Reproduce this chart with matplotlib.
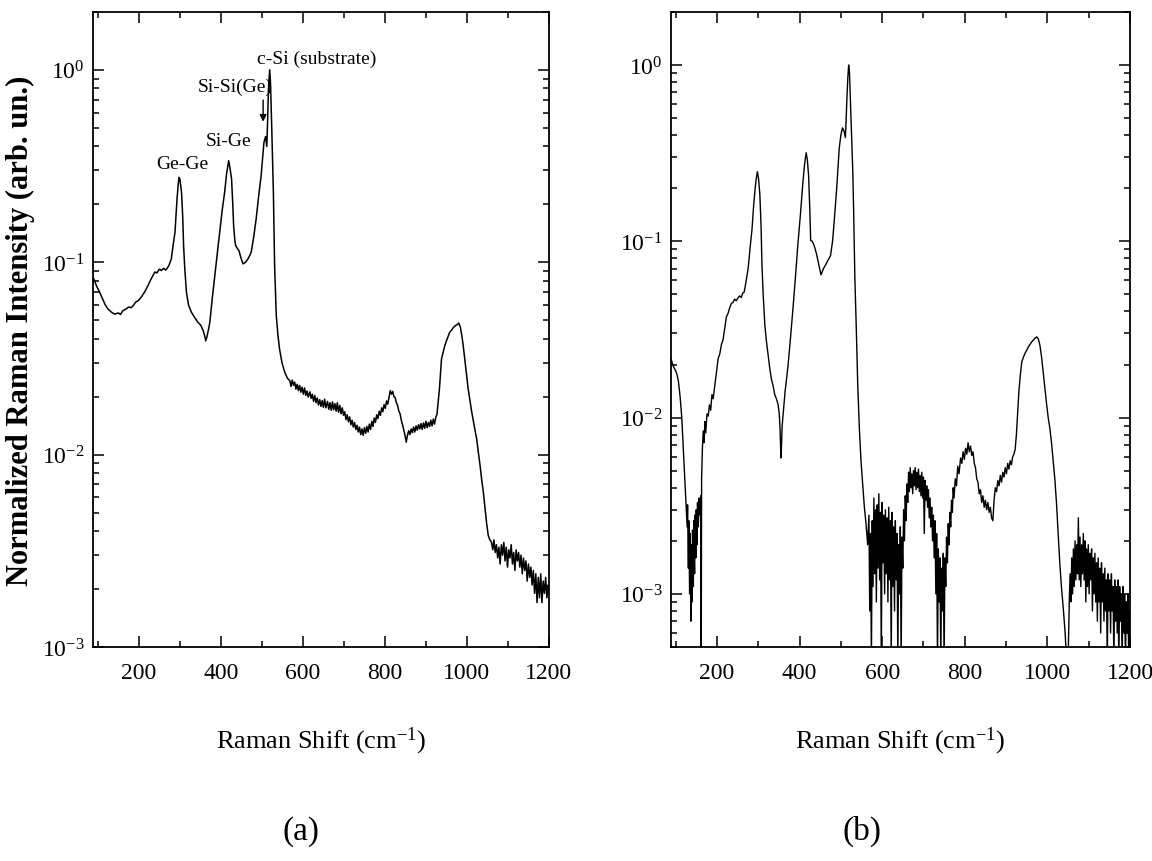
import numpy as np
import matplotlib
matplotlib.use("Agg")
import matplotlib.pyplot as plt
from matplotlib.ticker import LogLocator, MultipleLocator, NullFormatter

plt.rcParams['font.family'] = ['Liberation Serif', 'DejaVu Serif']
plt.rcParams['mathtext.fontset'] = 'custom'
plt.rcParams['mathtext.rm'] = 'Liberation Serif'
plt.rcParams['mathtext.it'] = 'Liberation Serif:italic'

# ---- panel (a): Raman shift (cm-1) and normalized intensity
a_shift = [90, 97, 104, 112, 118, 125, 133, 141, 150, 155, 161, 168, 175, 181, 186, 192, 198,
           206, 214, 222, 230, 239, 244, 250, 255, 260, 265, 269, 274, 279, 284, 288, 291, 293,
           296, 298, 300, 302, 304, 307, 309, 312, 316, 321, 328, 335, 344, 351, 357, 361, 363,
           366, 370, 373, 379, 385, 391, 397, 403, 409, 414, 419, 422, 426, 429, 431, 434, 436,
           440, 444, 449, 454, 460, 466, 470, 474, 480, 486, 492, 498, 502, 505, 509, 512, 514,
           516, 519, 521, 524, 528, 531, 535, 539, 543, 549, 556, 562, 568,
           571, 574, 577, 580, 583, 586, 589, 592, 595, 598,
           601, 604, 607, 610, 613, 617, 620, 623, 626, 629,
           632, 635, 638, 641, 644, 647, 650, 653, 656, 660,
           663, 666, 669, 672, 675, 678, 681, 684, 687, 690,
           693, 696, 699, 702, 705, 708, 711, 714, 717, 720,
           723, 726, 729, 732, 735, 738, 741, 744, 747, 750,
           753, 756, 759, 762, 765, 768, 771, 774, 777, 780,
           783, 786, 789, 792, 795, 798, 801, 804, 807, 810,
           813, 816, 819, 822, 825, 828, 831, 834, 837, 840,
           843, 846, 849, 852, 855, 858, 861, 864, 867, 870,
           873, 876, 879, 882, 885, 888, 891, 894, 897, 900,
           903, 906, 909, 912, 915, 918, 921, 924, 927, 930,
           933, 938, 942, 946, 950, 954, 958, 963, 968, 973,
           977, 980, 984, 988, 991, 995, 999, 1003, 1007, 1011, 1016, 1020, 1024, 1028, 1032,
           1036, 1040, 1044, 1048, 1052, 1056, 1060,
           1063, 1066, 1069, 1072, 1075, 1078, 1081, 1084, 1087, 1090, 1093, 1096, 1099, 1102,
           1105, 1108, 1111, 1114, 1117, 1120, 1123, 1126, 1129, 1132, 1135, 1138, 1141, 1144,
           1147, 1150, 1153, 1156, 1159, 1162, 1165, 1168, 1171, 1174, 1177, 1180, 1183, 1186,
           1189, 1192, 1195, 1198, 1200]
a_int = [0.082, 0.075, 0.070, 0.064, 0.060, 0.057, 0.055, 0.0537, 0.0545, 0.0535, 0.056, 0.057,
         0.0585, 0.058, 0.0594, 0.062, 0.063, 0.066, 0.070, 0.0755, 0.082, 0.089, 0.088, 0.092,
         0.0905, 0.093, 0.091, 0.093, 0.097, 0.104, 0.125, 0.143, 0.180, 0.213, 0.255, 0.276,
         0.27, 0.250, 0.231, 0.17, 0.122, 0.092, 0.0697, 0.060, 0.055, 0.052, 0.0487, 0.047,
         0.044, 0.041, 0.039, 0.041, 0.045, 0.0487, 0.065, 0.085, 0.11, 0.143, 0.185, 0.23,
         0.29, 0.337, 0.31, 0.271, 0.2, 0.155, 0.13, 0.122, 0.118, 0.115, 0.105, 0.098, 0.100,
         0.104, 0.108, 0.113, 0.135, 0.168, 0.22, 0.28, 0.35, 0.42, 0.45, 0.40, 0.55, 0.8, 1.0,
         0.85, 0.5, 0.23, 0.096, 0.053, 0.042, 0.0354, 0.030, 0.0267, 0.025, 0.0242,
         0.0226, 0.0244, 0.0229, 0.0238, 0.0219, 0.0232, 0.0215, 0.0229, 0.0211, 0.0224,
         0.0206, 0.0222, 0.0203, 0.0214, 0.0199, 0.0212, 0.0196, 0.0206, 0.0189, 0.0203,
         0.0186, 0.0197, 0.0181, 0.0193, 0.0178, 0.0191, 0.0176, 0.0194, 0.0175, 0.0189,
         0.0172, 0.0186, 0.0170, 0.0188, 0.0171, 0.0184, 0.0168, 0.0186, 0.0166, 0.0180,
         0.0163, 0.0175, 0.0160, 0.0167, 0.0152, 0.0161, 0.0148, 0.0157, 0.0143, 0.0151,
         0.0139, 0.0147, 0.0135, 0.0142, 0.0131, 0.0139, 0.0127, 0.0136, 0.0126, 0.0138,
         0.0129, 0.0140, 0.0131, 0.0144, 0.0135, 0.0149, 0.0140, 0.0155, 0.0147, 0.0161,
         0.0154, 0.0168, 0.0160, 0.0175, 0.0167, 0.0182, 0.0174, 0.0190, 0.0183, 0.0198,
         0.0215, 0.0206, 0.0213, 0.0200, 0.0198, 0.0186, 0.0180, 0.0168, 0.0163, 0.0151,
         0.0143, 0.0134, 0.0126, 0.0116, 0.0126, 0.0133, 0.0127, 0.0136, 0.0130, 0.0139,
         0.0131, 0.0141, 0.0134, 0.0143, 0.0136, 0.0145, 0.0135, 0.0146, 0.0137, 0.0149,
         0.0138, 0.0147, 0.0140, 0.0151, 0.0141, 0.0153, 0.0144, 0.0156, 0.0162, 0.0190,
         0.022, 0.0314, 0.034, 0.0368, 0.039, 0.041, 0.0432, 0.0445, 0.046, 0.047,
         0.0475, 0.0483, 0.046, 0.041, 0.0368, 0.031, 0.026, 0.022, 0.0194, 0.017, 0.0148,
         0.0133, 0.012, 0.0102, 0.0088, 0.0074, 0.0064, 0.0053, 0.0044, 0.0038, 0.0036, 0.0035,
         0.0032, 0.0036, 0.0031, 0.0034, 0.0029, 0.0033, 0.0027, 0.0034, 0.0030, 0.0035, 0.0028,
         0.0033, 0.0026, 0.0032, 0.0029, 0.0034, 0.0027, 0.0031, 0.0025, 0.0032, 0.0028, 0.0031,
         0.0026, 0.0030, 0.0024, 0.0029, 0.0025, 0.0028, 0.0022, 0.0027, 0.0023, 0.0026, 0.0021,
         0.0025, 0.0019, 0.0024, 0.0017, 0.0023, 0.0018, 0.0024, 0.0017, 0.0022, 0.0019, 0.0023,
         0.0018, 0.0021, 0.0020]

# ---- panel (b)
b_shift = [89, 93, 97, 100, 103, 107, 111, 115, 119, 123, 126, 128, 129, 131, 132, 134, 135, 137,
           138, 140, 141, 143, 144, 146, 147, 149, 150, 152, 153, 155, 157, 159, 161, 162, 163,
           165, 167, 169, 171, 173, 176, 179, 182, 185, 188, 191, 195, 199, 203, 207, 211, 215,
           219, 223, 227, 231, 235, 239, 243, 247, 251, 255, 259, 263, 266, 270, 273, 276, 280,
           285, 289, 292, 295, 298, 301, 304, 307, 309, 312, 316, 320, 324, 328, 332, 336, 340,
           344, 348, 351, 353, 355, 356, 358, 360, 365, 372, 378, 384, 390, 396, 402, 408, 412,
           416, 419, 422, 425, 427, 431, 436, 441, 446, 452, 458, 465, 470, 475, 480, 484, 490,
           496, 500, 504, 508, 511, 513, 515, 517, 519, 521, 523, 526, 529, 531, 534, 537, 541,
           545, 549, 553, 557, 561, 565,
           568, 570, 572, 574, 576, 578, 580, 582, 584, 586, 588, 590, 592, 594, 596, 598, 600,
           602, 604, 606, 608, 610, 612, 614, 616, 618, 620, 622, 624, 626, 628, 630, 632, 634,
           636, 638, 640, 642, 644, 646, 648, 650, 652, 654, 656, 658, 660, 662, 664, 666, 668,
           670, 672, 674, 676, 678, 680, 682, 684, 686, 688, 690, 692, 694, 696, 698, 700, 702,
           704, 706, 708, 710, 712, 714, 716, 718, 720, 722, 724, 726, 728, 730, 732, 734, 736,
           738, 740, 742, 744, 746, 748, 750, 752, 754, 756, 758, 760, 762, 764, 766, 768, 770,
           772, 774, 777, 780, 783, 786, 790, 793, 796, 799, 802, 805, 808, 811, 814, 817, 820,
           823, 826, 829, 832, 835, 838, 841, 844, 847, 850, 853, 856, 859, 862, 865, 868, 871,
           874, 877, 880, 883, 886, 889, 892, 895, 898, 901, 904, 907, 910, 913, 916, 919, 922,
           925, 928, 931, 934, 938, 942, 946, 950, 954, 958, 962, 966, 970, 974, 978, 982, 986,
           990, 994, 998, 1002, 1006, 1010, 1014, 1018, 1022, 1026, 1030, 1034, 1039, 1043, 1047,
           1050, 1053, 1055,
           1057, 1059, 1061, 1063, 1065, 1067, 1069, 1071, 1073, 1075, 1077, 1079, 1081, 1083,
           1085, 1087, 1089, 1091, 1093, 1095, 1097, 1099, 1101, 1103, 1105, 1107, 1109, 1111,
           1113, 1115, 1117, 1119, 1121, 1123, 1125, 1127, 1129, 1131, 1133, 1135, 1137, 1139,
           1141, 1143, 1145, 1147, 1149, 1151, 1153, 1155, 1157, 1159, 1161, 1163, 1165, 1167,
           1169, 1171, 1173, 1175, 1177, 1179, 1181, 1183, 1185, 1187, 1189, 1191, 1193, 1195,
           1197, 1199]
b_int = [0.0216, 0.020, 0.019, 0.0185, 0.0177, 0.016, 0.0131, 0.010, 0.0065, 0.0042, 0.0030,
         0.0024, 0.0032, 0.0014, 0.0026, 0.0010, 0.0022, 0.0007, 0.0019, 0.0009, 0.0023, 0.0011,
         0.0026, 0.0013, 0.0028, 0.0016, 0.0030, 0.0019, 0.0033, 0.0024, 0.0035, 0.0028, 0.0036,
         0.0003, 0.0045, 0.0068, 0.0084, 0.0072, 0.0095, 0.0082, 0.0105, 0.0102, 0.0118, 0.011,
         0.0135, 0.0128, 0.0152, 0.018, 0.0216, 0.023, 0.026, 0.0277, 0.032, 0.0373, 0.039,
         0.042, 0.0444, 0.045, 0.047, 0.046, 0.0478, 0.049, 0.048, 0.051, 0.0515, 0.058, 0.064,
         0.0713, 0.09, 0.117, 0.16, 0.193, 0.225, 0.248, 0.225, 0.184, 0.12, 0.0749, 0.05,
         0.0337, 0.027, 0.0226, 0.019, 0.0165, 0.0152, 0.0135, 0.0128, 0.0119, 0.0105, 0.0085,
         0.0059, 0.0065, 0.009, 0.0102, 0.014, 0.0195, 0.028, 0.0412, 0.062, 0.096, 0.14, 0.213,
         0.27, 0.318, 0.29, 0.236, 0.15, 0.101, 0.1, 0.0937, 0.085, 0.0749, 0.0645, 0.07,
         0.0749, 0.079, 0.0828, 0.1, 0.13, 0.2, 0.334, 0.4, 0.44, 0.42, 0.388, 0.5, 0.67, 0.85,
         1.0, 0.9, 0.64, 0.4, 0.248, 0.15, 0.0614, 0.035, 0.0152, 0.0085, 0.0056, 0.0042,
         0.0031, 0.0025, 0.0019,
         0.0028, 0.0008, 0.0022, 0.0004, 0.0026, 0.0011, 0.0035, 0.0013, 0.0030, 0.0009, 0.0032,
         0.0014, 0.0037, 0.0012, 0.0029, 0.0004, 0.0033, 0.0015, 0.0028, 0.0010, 0.0030, 0.0013,
         0.0027, 0.0009, 0.0031, 0.0012, 0.0026, 0.0004, 0.0029, 0.0011, 0.0024, 0.0008, 0.0026,
         0.0012, 0.0022, 0.0004, 0.0019, 0.0010, 0.0024, 0.0004, 0.0021, 0.0014, 0.0030, 0.0020,
         0.0036, 0.0026, 0.0042, 0.0033, 0.0049, 0.0038, 0.0052, 0.0040, 0.0048, 0.0037, 0.0050,
         0.0041, 0.0052, 0.0039, 0.0049, 0.0040, 0.0051, 0.0038, 0.0047, 0.0036, 0.0049, 0.0035,
         0.0046, 0.0022, 0.0044, 0.0034, 0.0041, 0.0031, 0.0039, 0.0027, 0.0035, 0.0024, 0.0031,
         0.0020, 0.0028, 0.0016, 0.0026, 0.0010, 0.0022, 0.0004, 0.0018, 0.0009, 0.0016, 0.0004,
         0.0014, 0.0008, 0.0017, 0.0004, 0.0016, 0.0011, 0.0021, 0.0015, 0.0025, 0.0019, 0.0029,
         0.0024, 0.0034, 0.0029, 0.0040, 0.0035, 0.0045, 0.0041, 0.0053, 0.0048, 0.0059, 0.0055,
         0.0064, 0.0058, 0.0067, 0.0062, 0.0072, 0.0064, 0.0069, 0.0061, 0.0064, 0.0055, 0.0052,
         0.0045, 0.0043, 0.0037, 0.0039, 0.0033, 0.0036, 0.0031, 0.0034, 0.0030, 0.0033, 0.0029,
         0.0031, 0.0027, 0.0026, 0.0034, 0.0040, 0.0038, 0.0044, 0.0041, 0.0047, 0.0043, 0.0049,
         0.0046, 0.0052, 0.0048, 0.0055, 0.0051, 0.0057, 0.0054, 0.0060, 0.0062, 0.0066, 0.0080,
         0.0105, 0.0140, 0.0170, 0.0207, 0.0220, 0.0232, 0.0241, 0.0252, 0.026, 0.0269, 0.0275,
         0.0282, 0.0287, 0.0280, 0.0257, 0.022, 0.018, 0.0146, 0.012, 0.010, 0.0087, 0.0072,
         0.0057, 0.0045, 0.0033, 0.0022, 0.0015, 0.0011, 0.0008, 0.0006, 0.0004, 0.0004, 0.0009,
         0.0013,
         0.0009, 0.0016, 0.0010, 0.0018, 0.0011, 0.0020, 0.0012, 0.0019, 0.0013, 0.0027, 0.0012,
         0.0021, 0.0011, 0.0019, 0.0013, 0.0022, 0.0012, 0.0020, 0.0009, 0.0018, 0.0011, 0.0019,
         0.0010, 0.0017, 0.0012, 0.0018, 0.0008, 0.0016, 0.0010, 0.0017, 0.0009, 0.0015, 0.0007,
         0.0016, 0.0009, 0.0014, 0.0006, 0.0015, 0.0009, 0.0013, 0.0007, 0.0014, 0.0008, 0.0012,
         0.0004, 0.0013, 0.0008, 0.0012, 0.0006, 0.0013, 0.0008, 0.0011, 0.0004, 0.0012, 0.0007,
         0.0011, 0.0006, 0.0012, 0.0004, 0.0011, 0.0007, 0.0010, 0.0004, 0.0011, 0.0006, 0.0010,
         0.0004, 0.0009, 0.0006, 0.0010, 0.0004, 0.0008]

peak_labels = ["Ge-Ge", "Si-Ge", "Si-Si(Ge)", "c-Si (substrate)"]
peak_label_x = [307, 419, 436, 634]
peak_label_y = [0.324, 0.427, 0.824, 1.15]

fig = plt.figure(figsize=(11.52, 8.62), dpi=100)
ax1 = fig.add_axes([0.0807, 0.2483, 0.3958, 0.7367])
ax2 = fig.add_axes([0.5825, 0.2483, 0.3984, 0.7367])

ax1.plot(a_shift, a_int, color='black', lw=1.1)
ax2.plot(b_shift, b_int, color='black', lw=1.0)

ax1.set_xlim(88, 1200)
ax1.set_ylim(1e-3, 2)
ax2.set_xlim(89, 1200)
ax2.set_ylim(5e-4, 2)

for ax in (ax1, ax2):
    ax.set_yscale('log')
    ax.xaxis.set_major_locator(MultipleLocator(200))
    ax.xaxis.set_minor_locator(MultipleLocator(100))
    ax.yaxis.set_major_locator(LogLocator(base=10, numticks=10))
    ax.yaxis.set_minor_locator(LogLocator(base=10, subs=np.arange(2, 10), numticks=20))
    ax.yaxis.set_minor_formatter(NullFormatter())
    ax.tick_params(which='both', direction='in', top=True, right=True, width=1.1)
    ax.tick_params(which='major', length=8)
    ax.tick_params(which='minor', length=4.5)
    ax.tick_params(axis='x', which='major', pad=11, labelsize=17)
    ax.tick_params(axis='y', which='major', pad=6, labelsize=17)
    for s in ax.spines.values():
        s.set_linewidth(1.3)
    ax.set_xlabel("Raman Shift (cm$^{-1}$)", fontsize=19, labelpad=30)

ax1.set_ylabel("Normalized Raman Intensity (arb. un.)", fontsize=22, fontweight='bold')
ax1.yaxis.set_label_coords(-0.128, 0.5)

for lbl, lx, ly in zip(peak_labels, peak_label_x, peak_label_y):
    ax1.text(lx, ly, lbl, fontsize=14, ha='center', va='center')
ax1.annotate("", xy=(503, 0.52), xytext=(503, 0.72),
             arrowprops=dict(arrowstyle='-|>', color='black', lw=1.0, mutation_scale=10))

fig.text(0.261, 0.035, "(a)", fontsize=24, ha='center', va='center')
fig.text(0.748, 0.035, "(b)", fontsize=24, ha='center', va='center')

fig.savefig("out.png", dpi=100)
